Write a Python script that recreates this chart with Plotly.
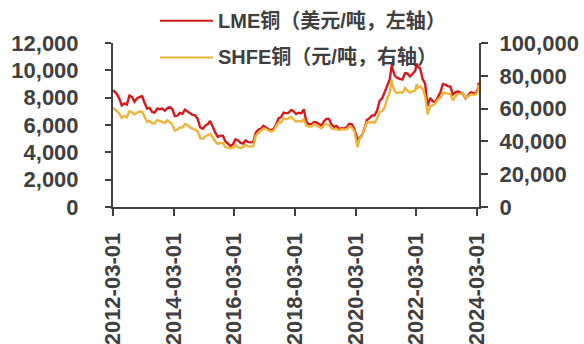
import pandas as pd
import plotly.graph_objects as go

# ---------------- data ----------------
series_names = ["LME铜（美元/吨，左轴）", "SHFE铜（元/吨，右轴）"]

# monthly readings, Mar-2012 .. Mar-2024 (dated mid-month)
lme_monthly = [
    8470, 8280, 7950, 7430, 7580, 7500, 8150, 8050, 7700, 7950,                    # 2012 Mar-Dec
    8050, 8100, 7650, 7200, 7250, 6950, 6900, 7200, 7150, 7200, 7050, 7220,        # 2013
    7300, 7150, 6650, 6680, 6880, 6820, 7120, 7000, 6870, 6740, 6700, 6450,        # 2014
    5830, 5730, 5940, 6050, 6300, 5830, 5460, 5130, 5220, 5220, 4800, 4640,        # 2015
    4470, 4600, 4950, 4870, 4690, 4640, 4870, 4750, 4720, 4730, 5450, 5660,        # 2016
    5740, 5940, 5820, 5690, 5600, 5720, 5990, 6480, 6580, 6900, 6850, 6900,        # 2017
    7100, 7000, 6800, 6900, 6850, 7150, 6250, 6050, 6050, 6220, 6190, 6080,        # 2018
    5940, 6300, 6440, 6440, 6030, 5870, 5940, 5710, 5760, 5740, 5860, 6080,        # 2019
    6050, 5690, 5100, 5060, 5240, 5730, 6370, 6500, 6700, 6710, 7070, 7770,        # 2020
    7970, 8460, 8990, 9340, 10180, 9610, 9440, 9370, 9320, 9780, 9770, 9550,       # 2021
    9780, 9940, 10240, 10180, 9380, 9030, 7400, 7980, 7740, 7660, 8030, 8370,      # 2022
    8990, 8950, 8840, 8810, 8230, 8390, 8460, 8350, 8270, 7940, 8170, 8390,        # 2023
    8340, 8310, 8680,                                                              # 2024 Jan-Mar
]
shfe_monthly = [
    60000, 58500, 57000, 54300, 55500, 54800, 58500, 57800, 56500, 57500,           # 2012 Mar-Dec
    58200, 58000, 55500, 52000, 52500, 51000, 51200, 53000, 52500, 52000, 51200, 52800,  # 2013
    51800, 50000, 46500, 47200, 48500, 48500, 50500, 50000, 48500, 47800, 47200, 46300,  # 2014
    42000, 41500, 43000, 44000, 44500, 42500, 40000, 38500, 39000, 39000, 36500, 36200,  # 2015
    35800, 36200, 37800, 36500, 36000, 36500, 37800, 37000, 36800, 37300, 43500, 45000,  # 2016
    46500, 48000, 47500, 46500, 46000, 46500, 49000, 51500, 51500, 54000, 53500, 54000,  # 2017
    55000, 53500, 52000, 52500, 52000, 53500, 49500, 49000, 49000, 50500, 49500, 48800,  # 2018
    48000, 50000, 50500, 50000, 48000, 47500, 47500, 46800, 47500, 47200, 47500, 49000,  # 2019
    48500, 46000, 39500, 41500, 43500, 47500, 51500, 51500, 51800, 51500, 54000, 58000,  # 2020
    58500, 61000, 66000, 69500, 75000, 70500, 69500, 70000, 69500, 72500, 71000, 69800,  # 2021
    70500, 71000, 72500, 73500, 72000, 68000, 56500, 61500, 62000, 63000, 65500, 66500,  # 2022
    69500, 69500, 69000, 68800, 65000, 67500, 69000, 69000, 69500, 66500, 67500, 68500,  # 2023
    68500, 68500, 71000,                                                                  # 2024 Jan-Mar
]

# extra daily readings (start, visible spikes, last point)
extra_dates = ["2012-03-01", "2020-03-23", "2021-05-11", "2022-03-07", "2024-03-20"]
extra_lme = [8560, 4630, 10450, 10500, 9100]
extra_shfe = [60400, 36500, 77500, 75000, 74500]

tick_dates = ["2012-03-01", "2014-03-01", "2016-03-01", "2018-03-01",
              "2020-03-01", "2022-03-01", "2024-03-01"]

# ---------------- assemble ----------------
month_dates = pd.date_range("2012-03-01", "2024-03-01", freq="MS") + pd.Timedelta(days=14)
df = pd.concat([
    pd.DataFrame({"date": month_dates, "lme": lme_monthly, "shfe": shfe_monthly}),
    pd.DataFrame({"date": pd.to_datetime(extra_dates), "lme": extra_lme, "shfe": extra_shfe}),
]).sort_values("date")

RED = "#D7191E"
GOLD = "#EDB63A"
AX = "#404040"
TICKFONT = dict(family="Liberation Sans", size=22, color=AX, weight="bold")

fig = go.Figure()
fig.add_trace(go.Scatter(x=df["date"], y=df["lme"], name=series_names[0], mode="lines",
                         line=dict(color=RED, width=2.4), yaxis="y", showlegend=False))
fig.add_trace(go.Scatter(x=df["date"], y=df["shfe"], name=series_names[1], mode="lines",
                         line=dict(color=GOLD, width=2.4), yaxis="y2", showlegend=False))

# manual legend (line samples + labels) placed like the reference
L, R, T, B = 113, 479, 43, 207
def px(x):
    return (x - L) / (R - L)
def py(y):
    return (B - y) / (B - T)

for i, (name, col) in enumerate(zip(series_names, [RED, GOLD])):
    yy = [20.7, 57.5][i]
    fig.add_shape(type="line", xref="paper", yref="paper",
                  x0=px(160), x1=px(213), y0=py(yy), y1=py(yy),
                  line=dict(color=col, width=2))
    fig.add_annotation(xref="paper", yref="paper", x=px(216), y=py(yy),
                       xanchor="left", yanchor="middle", text=name, showarrow=False,
                       font=dict(family="Liberation Sans, Noto Sans CJK SC", size=20,
                                 color=AX, weight="bold"))

fig.update_layout(
    width=584, height=344,
    margin=dict(l=L, r=584 - R, t=T, b=344 - B, autoexpand=False),
    paper_bgcolor="white", plot_bgcolor="white",
    xaxis=dict(type="date", range=["2012-03-01", "2024-03-25"], automargin=False,
               tickvals=tick_dates, ticktext=tick_dates, tickangle=-90,
               ticks="outside", ticklen=7, tickwidth=2, tickcolor=AX,
               showline=True, linewidth=2, linecolor=AX, showgrid=False, zeroline=False,
               tickfont=TICKFONT, ticklabelstandoff=8),
    yaxis=dict(range=[0, 12000], dtick=2000, tickformat=",d", automargin=False,
               ticks="outside", ticklen=6, tickwidth=2, tickcolor=AX,
               showline=True, linewidth=2, linecolor=AX, showgrid=False, zeroline=False,
               tickfont=TICKFONT, ticklabelstandoff=22),
    yaxis2=dict(range=[0, 100000], dtick=20000, tickformat=",d", overlaying="y", side="right",
                automargin=False,
                ticks="outside", ticklen=7, tickwidth=2, tickcolor=AX,
                showline=True, linewidth=2, linecolor=AX, showgrid=False, zeroline=False,
                tickfont=TICKFONT, ticklabelstandoff=7),
)

fig.write_html("out.html")
